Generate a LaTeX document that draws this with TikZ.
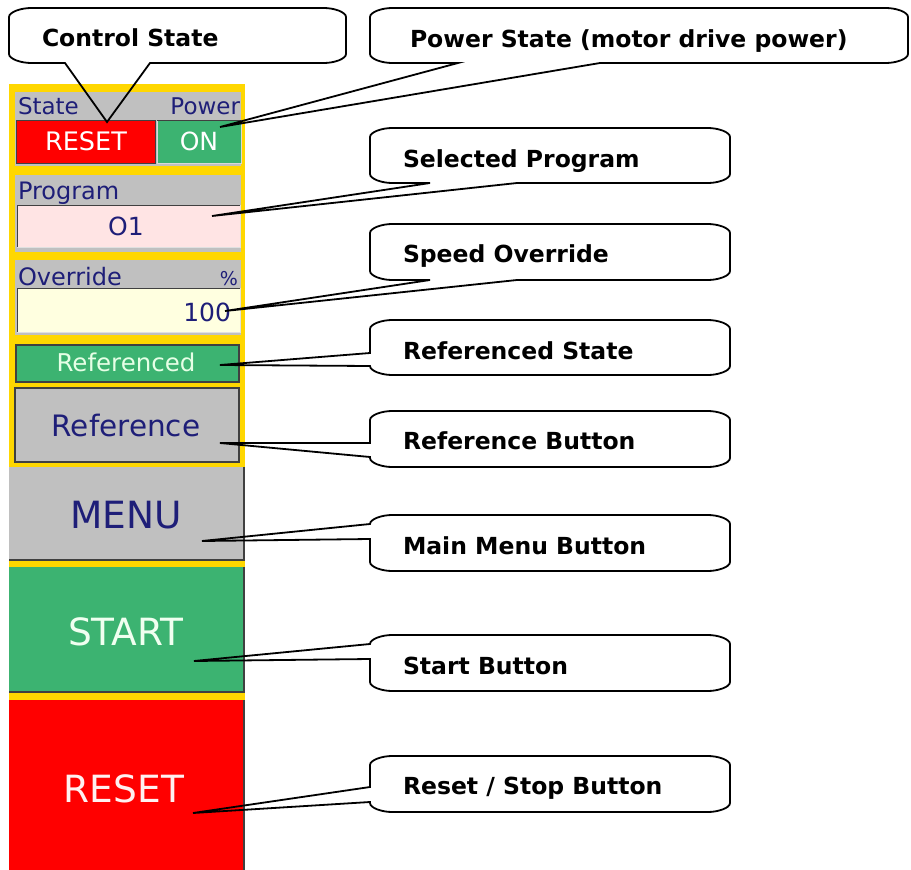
\documentclass[tikz,border=0pt]{standalone}
\usepackage{fontspec}
\setmainfont{DejaVu Sans}
\definecolor{pyellow}{HTML}{FFD700}
\definecolor{pgray}{HTML}{C0C0C0}
\definecolor{pgreen}{HTML}{3CB371}
\definecolor{pred}{HTML}{FF0000}
\definecolor{pnavy}{HTML}{1E1E78}
\definecolor{ppink}{HTML}{FFE4E4}
\definecolor{pcream}{HTML}{FFFFE0}
\definecolor{plight}{HTML}{E6FFE6}
\definecolor{pdark}{HTML}{404040}
\newcommand{\fs}[1]{\fontsize{#1}{#1}\selectfont}
% callout with pointer on the bottom edge: L T R B rightbase tip leftbase
\newcommand{\calloutBottom}[7]{%
  \draw[callout] ({#1},{#2+9}) .. controls ({#1},{#2+4}) and ({#1+12},{#2}) .. ({#1+22},{#2})
    -- ({#3-22},{#2}) .. controls ({#3-12},{#2}) and ({#3},{#2+4}) .. ({#3},{#2+9})
    -- ({#3},{#4-9}) .. controls ({#3},{#4-4}) and ({#3-12},{#4}) .. ({#3-22},{#4})
    -- ({#5},{#4}) -- (#6) -- ({#7},{#4})
    -- ({#1+22},{#4}) .. controls ({#1+12},{#4}) and ({#1},{#4-4}) .. ({#1},{#4-9}) -- cycle;}
% callout with pointer on the left edge: L T R B lowery tip uppery
\newcommand{\calloutLeft}[7]{%
  \draw[callout] ({#1},{#2+9}) .. controls ({#1},{#2+4}) and ({#1+12},{#2}) .. ({#1+22},{#2})
    -- ({#3-22},{#2}) .. controls ({#3-12},{#2}) and ({#3},{#2+4}) .. ({#3},{#2+9})
    -- ({#3},{#4-9}) .. controls ({#3},{#4-4}) and ({#3-12},{#4}) .. ({#3-22},{#4})
    -- ({#1+22},{#4}) .. controls ({#1+12},{#4}) and ({#1},{#4-4}) .. ({#1},{#4-9})
    -- ({#1},{#5}) -- (#6) -- ({#1},{#7}) -- cycle;}
\tikzset{
  pbox/.style={rectangle, inner sep=0pt, outer sep=0pt, draw=none},
  callout/.style={draw=black, line width=1.8pt, line join=miter},
  navytxt/.style={text=pnavy, inner sep=0pt, outer sep=0pt},
  whitetxt/.style={text=white, inner sep=0pt, outer sep=0pt},
  ctext/.style={inner sep=0pt, outer sep=0pt, anchor=base west, font=\bfseries\fs{23.5}},
  edge3d/.style={draw=pdark, line width=1.5pt},
}
\begin{document}
\begin{tikzpicture}[x=1pt,y=-1pt]
\useasboundingbox (0,0) rectangle (911,870);
% ---------- panel ----------
\node[pbox, fill=pyellow, minimum width=236pt, minimum height=616pt] (bg) at (127,392) {};
\node[pbox, fill=pgray, minimum width=226pt, minimum height=74pt] (hdr) at (128,129) {};
\node[pbox, fill=pred, draw=pdark, line width=1pt, minimum width=139pt, minimum height=43pt] (resetS) at (85.5,141.5) {};
\node[pbox, fill=pgreen, draw=white!85!black, line width=1pt, minimum width=84pt, minimum height=43pt] (onS) at (199,141.5) {};
\draw[pdark, line width=1pt] (onS.north west) -- (onS.north east);
\node[navytxt, anchor=base west, font=\fs{23}] (lblState) at (18,114) {State};
\node[navytxt, anchor=base east, font=\fs{23}] (lblPower) at (240,114) {Power};
\node[whitetxt, anchor=base, font=\fs{25.5}] (txtResetS) at (86,150) {RESET};
\node[whitetxt, anchor=base, font=\fs{25}] (txtOn) at (199,150) {ON};

\node[pbox, fill=pgray, minimum width=226pt, minimum height=77pt] (prog) at (128,213.5) {};
\node[pbox, fill=ppink, draw=white!88!black, line width=1pt, minimum width=223pt, minimum height=42pt] (pink) at (128.5,226) {};
\draw[pdark, line width=1pt] (pink.south west) -- (pink.north west) -- (pink.north east);
\node[navytxt, anchor=base west, font=\fs{24}] (lblProgram) at (18,199) {Program};
\node[navytxt, anchor=base, font=\fs{25}] (txtO1) at (126,235) {O1};

\node[pbox, fill=pgray, minimum width=226pt, minimum height=75pt] (ovr) at (128,297.5) {};
\node[pbox, fill=pcream, draw=white!88!black, line width=1pt, minimum width=223pt, minimum height=44pt] (cream) at (128.5,310) {};
\draw[pdark, line width=1pt] (cream.south west) -- (cream.north west) -- (cream.north east);
\node[navytxt, anchor=base west, font=\fs{24}] (lblOverride) at (18,285) {Override};
\node[navytxt, anchor=base east, font=\fs{19}] (lblPct) at (238,285) {\%};
\node[navytxt, anchor=base east, font=\fs{25}] (txt100) at (231,321) {100};

\node[pbox, fill=pgreen, draw=pdark, line width=1.5pt, minimum width=223pt, minimum height=37pt] (refd) at (127.5,363.5) {};
\node[inner sep=0pt, text=plight, anchor=base, font=\fs{24.5}] (txtRefd) at (126,371) {Referenced};

\node[pbox, fill=pgray, draw=pdark, line width=1.5pt, minimum width=224pt, minimum height=74pt] (refbtn) at (127,425) {};
\node[navytxt, anchor=base, font=\fs{29.5}] (txtRefBtn) at (126,436) {Reference};

\node[pbox, fill=pgray, minimum width=235pt, minimum height=93pt] (menu) at (126.5,513.5) {};
\draw[edge3d] (menu.north east) -- (menu.south east) -- (menu.south west);
\node[navytxt, anchor=base, font=\fs{37.5}] (txtMenu) at (126,528) {MENU};

\node[pbox, fill=pgreen, minimum width=235pt, minimum height=125pt] (start) at (126.5,629.5) {};
\draw[edge3d] (start.north east) -- (start.south east) -- (start.south west);
\node[inner sep=0pt, text=white!94!green, anchor=base, font=\fs{37.5}] (txtStart) at (126,645) {START};

\node[pbox, fill=pred, minimum width=235pt, minimum height=172pt] (reset) at (126.5,786) {};
\draw[edge3d] (reset.north east) -- (reset.south east);
\node[inner sep=0pt, text=white!94!red, anchor=base, font=\fs{37.5}] (txtReset) at (124,802) {RESET};

% ---------- pointer tips ----------
\coordinate (tipCS) at (107,122);
\coordinate (tipPW) at (220,127);
\coordinate (tipSP) at (212,216);
\coordinate (tipSO) at (225,311);
\coordinate (tipRS) at (220,365);
\coordinate (tipRB) at (220,443);
\coordinate (tipMM) at (202,541);
\coordinate (tipSB) at (194,661);
\coordinate (tipRR) at (193,813);

% ---------- callouts ----------
\calloutBottom{9}{8}{346}{63}{150}{tipCS}{65}
\node[ctext] (cCS) at (42,46) {Control State};

\calloutBottom{370}{8}{908}{63}{600}{tipPW}{458}
\node[ctext] (cPW) at (410,47) {Power State (motor drive power)};

\calloutBottom{370}{128}{730}{183}{517}{tipSP}{430}
\node[ctext] (cSP) at (403,167) {Selected Program};

\calloutBottom{370}{224}{730}{280}{517}{tipSO}{430}
\node[ctext] (cSO) at (403,262) {Speed Override};

\calloutLeft{370}{320}{730}{375}{366}{tipRS}{353}
\node[ctext] (cRS) at (403,359) {Referenced State};

\calloutLeft{370}{411}{730}{467}{457}{tipRB}{443}
\node[ctext] (cRB) at (403,449) {Reference Button};

\calloutLeft{370}{515}{730}{571}{539}{tipMM}{524}
\node[ctext] (cMM) at (403,554) {Main Menu Button};

\calloutLeft{370}{635}{730}{691}{659}{tipSB}{644}
\node[ctext] (cSB) at (403,674) {Start Button};

\calloutLeft{370}{756}{730}{812}{802}{tipRR}{787}
\node[ctext] (cRR) at (403,794) {Reset / Stop Button};
\end{tikzpicture}
\end{document}
